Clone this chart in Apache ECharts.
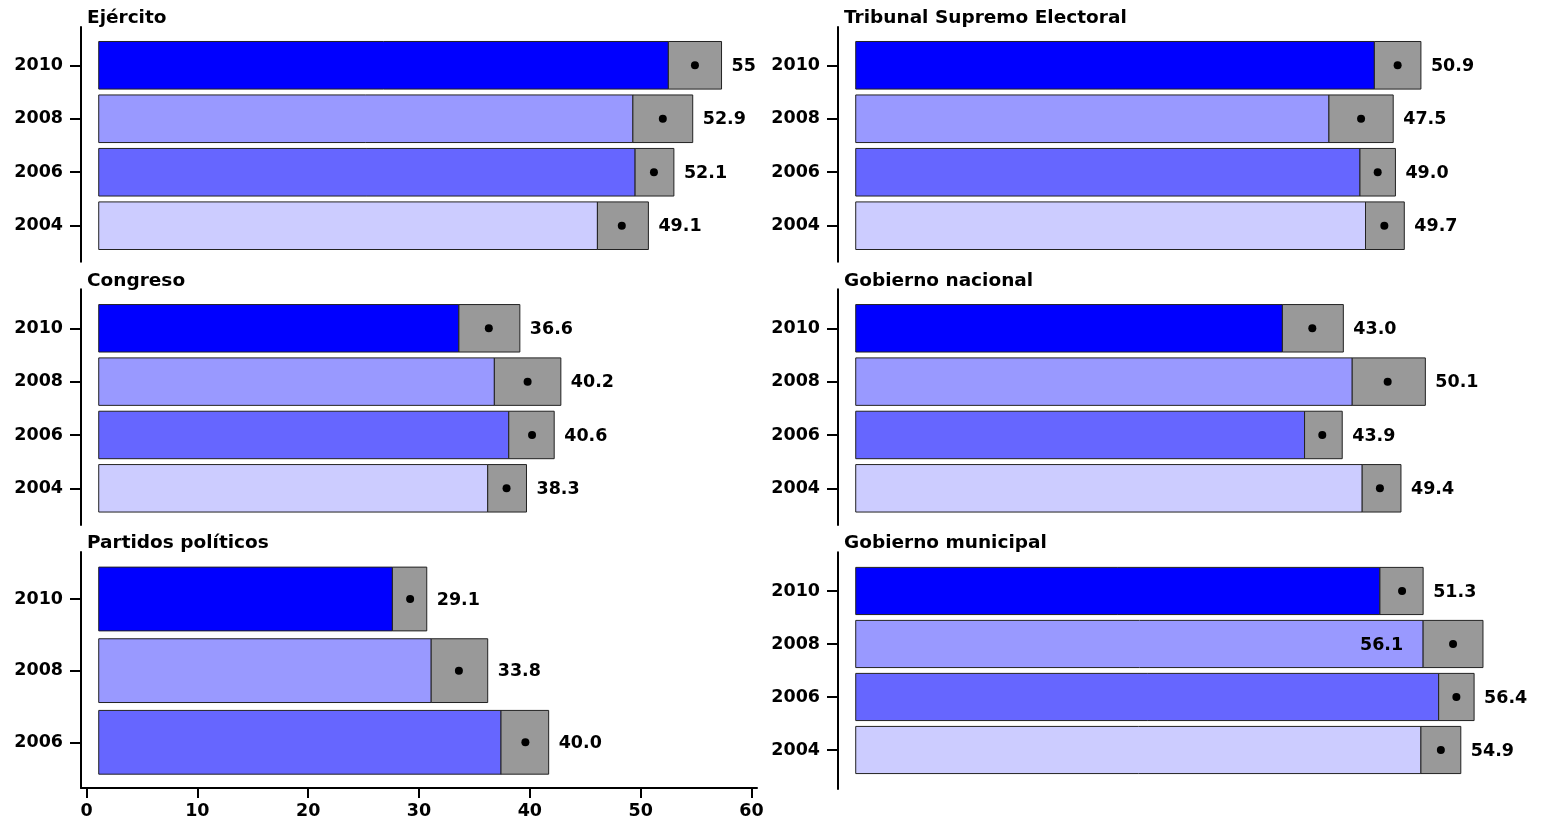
<!DOCTYPE html>
<html>
<head>
<meta charset="utf-8">
<script src="https://cdn.jsdelivr.net/npm/echarts@6/dist/echarts.min.js"></script>
<style>
  html, body { margin: 0; padding: 0; background: #fff; }
  #chart { width: 1542px; height: 822px; }
</style>
</head>
<body>
<div id="chart"></div>
<script>
// ---------- data ----------
const years4 = ['2010', '2008', '2006', '2004'];
const years3 = ['2010', '2008', '2006'];
const panelTitles = ['Ejército', 'Congreso', 'Partidos políticos',
                     'Tribunal Supremo Electoral', 'Gobierno nacional', 'Gobierno municipal'];
const xTicks = [0, 10, 20, 30, 40, 50, 60];
const barStart = 1.1;

// Ejército
const ejercitoLow   = [52.5, 49.3, 49.5, 46.1];
const ejercitoHigh  = [57.3, 54.7, 53.0, 50.7];
const ejercitoDot   = [54.9, 52.0, 51.2, 48.3];
const ejercitoLabel = ['55', '52.9', '52.1', '49.1'];

// Congreso
const congresoLow   = [33.6, 36.8, 38.1, 36.2];
const congresoHigh  = [39.1, 42.8, 42.2, 39.7];
const congresoDot   = [36.3, 39.8, 40.2, 37.9];
const congresoLabel = ['36.6', '40.2', '40.6', '38.3'];

// Partidos políticos (2010, 2008, 2006)
const partidosLow   = [27.6, 31.1, 37.4];
const partidosHigh  = [30.7, 36.2, 41.7];
const partidosDot   = [29.2, 33.6, 39.6];
const partidosLabel = ['29.1', '33.8', '40.0'];

// Tribunal Supremo Electoral
const tseLow   = [47.9, 43.8, 46.6, 47.1];
const tseHigh  = [52.1, 49.6, 49.8, 50.6];
const tseDot   = [50.0, 46.7, 48.2, 48.8];
const tseLabel = ['50.9', '47.5', '49.0', '49.7'];

// Gobierno nacional
const nacionalLow   = [39.6, 45.9, 41.6, 46.8];
const nacionalHigh  = [45.1, 52.5, 45.0, 50.3];
const nacionalDot   = [42.3, 49.1, 43.2, 48.4];
const nacionalLabel = ['43.0', '50.1', '43.9', '49.4'];

// Gobierno municipal
const municipalLow   = [48.4, 52.3, 53.7, 52.1];
const municipalHigh  = [52.3, 57.7, 56.9, 55.7];
const municipalDot   = [50.4, 55.0, 55.3, 53.9];
const municipalLabel = ['51.3', '56.1', '56.4', '54.9'];

// ---------- styles / layout ----------
const yearColors = ['#0000FF', '#9999FF', '#6666FF', '#CCCCFF'];
const FONT = '"DejaVu Sans", Verdana, sans-serif';

const panels = [
  { years: years4, low: ejercitoLow, high: ejercitoHigh, dot: ejercitoDot, label: ejercitoLabel,
    left: 81, top: 27, height: 234.7, ymin: -0.673, ymax: 3.716, titleTop: 7, showX: false },
  { years: years4, low: congresoLow, high: congresoHigh, dot: congresoDot, label: congresoLabel,
    left: 81, top: 289.3, height: 235.7, ymin: -0.688, ymax: 3.731, titleTop: 270, showX: false },
  { years: years3, low: partidosLow, high: partidosHigh, dot: partidosDot, label: partidosLabel,
    left: 81, top: 552, height: 236, ymin: -0.638, ymax: 2.656, titleTop: 532.5, showX: true },
  { years: years4, low: tseLow, high: tseHigh, dot: tseDot, label: tseLabel,
    left: 838, top: 27, height: 234.7, ymin: -0.673, ymax: 3.716, titleTop: 7, showX: false },
  { years: years4, low: nacionalLow, high: nacionalHigh, dot: nacionalDot, label: nacionalLabel,
    left: 838, top: 289.3, height: 235.7, ymin: -0.688, ymax: 3.731, titleTop: 270, showX: false },
  { years: years4, low: municipalLow, high: municipalHigh, dot: municipalDot, label: municipalLabel,
    left: 838, top: 552.3, height: 236.7, ymin: -0.736, ymax: 3.73, titleTop: 532.5, showX: false }
];

const grids = [], xAxes = [], yAxes = [], series = [], titles = [];

panels.forEach((p, k) => {
  const n = p.years.length;
  grids.push({ left: p.left, top: p.top, width: 676, height: p.height, containLabel: false });
  titles.push({
    text: panelTitles[k], left: p.left + 6, top: p.titleTop, padding: 0,
    textStyle: { fontFamily: FONT, fontWeight: 'bold', fontSize: 18.5, lineHeight: 22, color: '#000' }
  });
  xAxes.push({
    type: 'value', gridIndex: k, min: -0.5, max: 60.5, show: p.showX, position: 'bottom',
    axisLine: { show: true, onZero: false, lineStyle: { color: '#000', width: 2 } },
    axisTick: { show: true, length: 10, lineStyle: { color: '#000', width: 2 }, customValues: xTicks },
    axisLabel: { show: true, customValues: xTicks, margin: 14, color: '#000',
      fontFamily: FONT, fontWeight: 'bold', fontSize: 17.5 },
    splitLine: { show: false }
  });
  const yVals = p.years.map((_, i) => n - 1 - i);
  yAxes.push({
    type: 'value', gridIndex: k, min: p.ymin, max: p.ymax, position: 'left',
    axisLine: { show: true, onZero: false, lineStyle: { color: '#000', width: 2 } },
    axisTick: { show: true, length: 11, lineStyle: { color: '#000', width: 2 }, customValues: yVals },
    axisLabel: { show: true, customValues: yVals, margin: 18, color: '#000',
      fontFamily: FONT, fontWeight: 'bold', fontSize: 17.5, padding: [2, 0, 0, 0],
      formatter: (v) => p.years[n - 1 - Math.round(v)] },
    splitLine: { show: false }
  });
  const data = p.years.map((yr, i) => [n - 1 - i, p.low[i], p.high[i], p.dot[i], i]);
  series.push({
    type: 'custom', xAxisIndex: k, yAxisIndex: k, data: data,
    encode: { x: [1, 2, 3], y: 0 },
    clip: false, silent: true,
    renderItem: function (params, api) {
      const y = api.value(0);
      const i = api.value(4);
      const p0 = api.coord([barStart, y]);
      const p1 = api.coord([api.value(1), y]);
      const p2 = api.coord([api.value(2), y]);
      const pd = api.coord([api.value(3), y]);
      const h = api.size([0, 0.89])[1];
      const top = p0[1] - h / 2;
      const txt = p.label[i];
      const font = 'bold 17.5px ' + FONT;
      const tw = echarts.format.getTextRect ? echarts.format.getTextRect(txt, font).width : txt.length * 11;
      let lx = p2[0] + 10, align = 'left';
      if (lx + tw > api.getWidth() - 10) { lx = p1[0] - 20; align = 'right'; }
      return {
        type: 'group',
        children: [
          { type: 'rect', shape: { x: p0[0], y: top, width: p1[0] - p0[0], height: h },
            style: { fill: yearColors[i], stroke: '#222', lineWidth: 1 } },
          { type: 'rect', shape: { x: p1[0], y: top, width: p2[0] - p1[0], height: h },
            style: { fill: '#999999', stroke: '#222', lineWidth: 1 } },
          { type: 'circle', shape: { cx: pd[0], cy: pd[1], r: 4 }, style: { fill: '#000' } },
          { type: 'text', x: lx, y: p0[1] + 1,
            style: { text: txt, fill: '#000', font: font, align: align, verticalAlign: 'middle' } }
        ]
      };
    }
  });
});

const chart = echarts.init(document.getElementById('chart'), null, { renderer: 'canvas' });
chart.setOption({
  animation: false,
  backgroundColor: '#fff',
  title: titles,
  grid: grids,
  xAxis: xAxes,
  yAxis: yAxes,
  series: series
});
</script>
</body>
</html>
